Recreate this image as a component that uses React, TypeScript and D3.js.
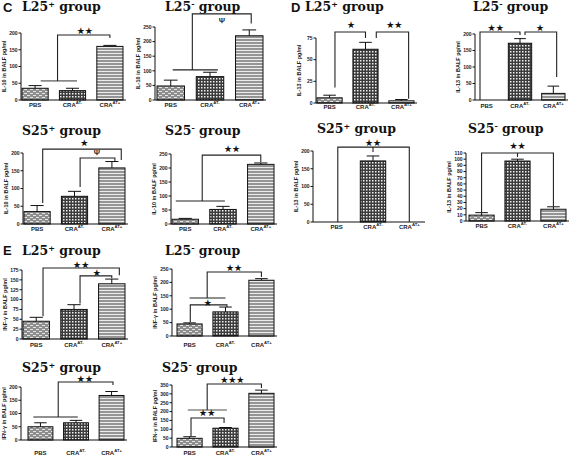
import React from 'react';
import * as d3 from 'd3';

// ---------- data ----------
const categories = ['PBS', 'CRA', 'CRA'];
const categorySup = ['', 'AT-', 'AT+'];

// Panel C : IL-10
const il10L25posMean = [35, 28, 160];
const il10L25posErr = [8, 7, 3];
const il10L25negMean = [48, 80, 220];
const il10L25negErr = [20, 15, 20];
const il10S25posMean = [35, 78, 158];
const il10S25posErr = [17, 14, 18];
const il10S25negMean = [17, 52, 213];
const il10S25negErr = [3, 11, 5];

// Panel D : IL-13
const il13L25posMean = [6, 62, 2.5];
const il13L25posErr = [3, 8, 1.5];
const il13L25negMean = [0, 172, 20];
const il13L25negErr = [0, 14, 22];
const il13S25posMean = [0, 172, 0];
const il13S25posErr = [0, 14, 0];
const il13S25negMean = [9.5, 97, 19];
const il13S25negErr = [4, 3, 4];

// Panel E : IFN-gamma
const ifnL25posMean = [45, 75, 140];
const ifnL25posErr = [10, 12, 12];
const ifnL25negMean = [45, 90, 208];
const ifnL25negErr = [4, 18, 6];
const ifnS25posMean = [50, 65, 168];
const ifnS25posErr = [15, 9, 15];
const ifnS25negMean = [49, 106, 303];
const ifnS25negErr = [9, 4, 18];

// y-axis maxima and tick steps
const axisMax = [200, 250, 200, 250, 75, 200, 200, 110, 175, 250, 200, 350];
const axisStep = [50, 50, 50, 50, 25, 50, 50, 10, 25, 50, 50, 50];

// significance brackets: points are [category position, value]
type Br = { pts: [number, number][]; grey?: boolean };
type Mk = { at: [number, number]; text: string };

const il10L25posLines: Br[] = [
  { pts: [[0.15, 57], [1.12, 57]], grey: true },
  { pts: [[0.6, 57], [0.6, 194], [2, 194], [2, 185]] },
];
const il10L25posMarks: Mk[] = [{ at: [1.33, 206], text: '★★' }];

const il10L25negLines: Br[] = [
  { pts: [[0.05, 103], [1.2, 103]] },
  { pts: [[0.55, 103], [0.55, 295], [2.05, 295], [2.05, 262]] },
];
const il10L25negMarks: Mk[] = [{ at: [1.3, 274], text: 'Ψ' }];

const il10S25posLines: Br[] = [
  { pts: [[0.15, 59], [0.15, 211], [2.25, 211], [2.25, 180]] },
  { pts: [[1.15, 104], [1.15, 186], [2.08, 186], [2.08, 177]] },
];
const il10S25posMarks: Mk[] = [
  { at: [1.26, 228], text: '★' },
  { at: [1.6, 202], text: 'Ψ' },
];

const il10S25negLines: Br[] = [
  { pts: [[-0.25, 82], [1.05, 82]] },
  { pts: [[0.45, 82], [0.45, 246], [2, 246], [2, 221]] },
];
const il10S25negMarks: Mk[] = [{ at: [1.24, 268], text: '★★' }];

const il13L25posLines: Br[] = [
  { pts: [[0.15, 18], [0.15, 82], [1.0, 82], [1.0, 75]] },
  { pts: [[1.3, 75], [1.3, 82], [2.2, 82], [2.2, 5]] },
];
const il13L25posMarks: Mk[] = [
  { at: [0.6, 90], text: '★' },
  { at: [1.8, 90], text: '★★' },
];

const il13L25negLines: Br[] = [
  { pts: [[-0.2, 0], [-0.2, 206], [1.0, 206], [1.0, 197]] },
  { pts: [[1.15, 197], [1.15, 206], [2.1, 206], [2.1, 70]] },
];
const il13L25negMarks: Mk[] = [
  { at: [0.27, 218], text: '★★' },
  { at: [1.6, 218], text: '★' },
];

const il13S25posLines: Br[] = [
  { pts: [[0.03, 0], [0.03, 211], [2.0, 211], [2.0, 0]] },
  { pts: [[1, 211], [1, 197]] },
];
const il13S25posMarks: Mk[] = [{ at: [1, 223], text: '★★' }];

const il13S25negLines: Br[] = [
  { pts: [[0, 14], [0, 110], [2, 110], [2, 24]] },
  { pts: [[1, 110], [1, 103.5]] },
];
const il13S25negMarks: Mk[] = [{ at: [1, 121], text: '★★' }];

const ifnL25posLines: Br[] = [
  { pts: [[0.18, 58], [0.18, 180], [2.2, 180], [2.2, 162]] },
  { pts: [[1.16, 90], [1.16, 160], [2.0, 160], [2.0, 154]] },
];
const ifnL25posMarks: Mk[] = [
  { at: [1.19, 188], text: '★★' },
  { at: [1.6, 168], text: '★' },
];

const ifnL25negLines: Br[] = [
  { pts: [[0.0, 142], [1.0, 142]] },
  { pts: [[0.49, 142], [0.49, 239], [2.0, 239], [2.0, 220]] },
  { pts: [[0.02, 52], [0.02, 116], [1.04, 116], [1.04, 108]] },
];
const ifnL25negMarks: Mk[] = [
  { at: [1.24, 256], text: '★★' },
  { at: [0.51, 124], text: '★' },
];

const ifnS25posLines: Br[] = [
  { pts: [[-0.2, 87], [1.05, 87]] },
  { pts: [[0.5, 87], [0.5, 219], [2.04, 219], [2.04, 208]] },
];
const ifnS25posMarks: Mk[] = [{ at: [1.25, 232], text: '★★' }];

const ifnS25negLines: Br[] = [
  { pts: [[-0.05, 209], [1.04, 209]], grey: true },
  { pts: [[0.49, 209], [0.49, 356], [2.0, 356], [2.0, 333]] },
  { pts: [[0.04, 60], [0.04, 164], [0.96, 164], [0.96, 136]] },
];
const ifnS25negMarks: Mk[] = [
  { at: [1.19, 378], text: '★★★' },
  { at: [0.49, 192], text: '★★' },
];

const groupNames = ['L25', 'L25', 'S25', 'S25'];
const groupSigns = ['+', '-', '+', '-'];
const yLabels = [
  'IL-10 in BALF pg/ml',
  'IL-13 in BALF pg/ml',
  'INF-γ in BALF pg/ml',
  'IFN-γ in BALF pg/ml',
];

// ---------- layout ----------
type Layout = {
  axisX: number; bandL: number; bandR: number; y0: number; yTop: number;
  labelY: number; titleX: number; titleY: number;
};
const layouts: Layout[] = [
  { axisX: 21, bandL: 22, bandR: 123, y0: 100, yTop: 33, labelY: 107, titleX: 22, titleY: 11 },
  { axisX: 155, bandL: 157, bandR: 263, y0: 100, yTop: 27, labelY: 107, titleX: 165, titleY: 11 },
  { axisX: 23, bandL: 24, bandR: 125, y0: 224, yTop: 153, labelY: 231, titleX: 22, titleY: 135 },
  { axisX: 171, bandL: 172, bandR: 274, y0: 224, yTop: 154, labelY: 231, titleX: 165, titleY: 135 },
  { axisX: 316, bandL: 317, bandR: 414, y0: 103, yTop: 38, labelY: 109, titleX: 305, titleY: 11 },
  { axisX: 475, bandL: 475, bandR: 565, y0: 100, yTop: 34, labelY: 108, titleX: 473, titleY: 11 },
  { axisX: 313, bandL: 324, bandR: 422, y0: 222, yTop: 151, labelY: 229, titleX: 317, titleY: 133 },
  { axisX: 466, bandL: 469, bandR: 566, y0: 221, yTop: 153, labelY: 228, titleX: 468, titleY: 133 },
  { axisX: 22, bandL: 23, bandR: 125, y0: 339, yTop: 270, labelY: 347, titleX: 22, titleY: 255 },
  { axisX: 172, bandL: 177, bandR: 274, y0: 336, yTop: 269, labelY: 347, titleX: 165, titleY: 255 },
  { axisX: 21, bandL: 28, bandR: 124, y0: 440, yTop: 387, labelY: 455, titleX: 22, titleY: 372 },
  { axisX: 172, bandL: 177, bandR: 274, y0: 447, yTop: 385, labelY: 455, titleX: 162, titleY: 372 },
];

const means = [
  il10L25posMean, il10L25negMean, il10S25posMean, il10S25negMean,
  il13L25posMean, il13L25negMean, il13S25posMean, il13S25negMean,
  ifnL25posMean, ifnL25negMean, ifnS25posMean, ifnS25negMean,
];
const errs = [
  il10L25posErr, il10L25negErr, il10S25posErr, il10S25negErr,
  il13L25posErr, il13L25negErr, il13S25posErr, il13S25negErr,
  ifnL25posErr, ifnL25negErr, ifnS25posErr, ifnS25negErr,
];
const lines = [
  il10L25posLines, il10L25negLines, il10S25posLines, il10S25negLines,
  il13L25posLines, il13L25negLines, il13S25posLines, il13S25negLines,
  ifnL25posLines, ifnL25negLines, ifnS25posLines, ifnS25negLines,
];
const marks = [
  il10L25posMarks, il10L25negMarks, il10S25posMarks, il10S25negMarks,
  il13L25posMarks, il13L25negMarks, il13S25posMarks, il13S25negMarks,
  ifnL25posMarks, ifnL25negMarks, ifnS25posMarks, ifnS25negMarks,
];
const yLabelIdx = [0, 0, 0, 0, 1, 1, 1, 1, 2, 2, 3, 3];
const fills = ['url(#patPBS)', 'url(#patCRAm)', 'url(#patCRAp)'];

const SANS = 'Liberation Sans, Arial, sans-serif';
const SERIF = 'DejaVu Serif, serif';
const SYM = 'DejaVu Sans, sans-serif';

function Panel({ i }: { i: number }) {
  const L = layouts[i];
  const max = axisMax[i];
  const step = axisStep[i];
  const y = d3.scaleLinear().domain([0, max]).range([L.y0, L.yTop]);
  const xb = d3.scaleBand<number>().domain([0, 1, 2]).range([L.bandL, L.bandR]).paddingInner(0.3).paddingOuter(0);
  const bw = xb.bandwidth();
  const cx = (k: number) => (xb(k) as number) + bw / 2;
  const xi = d3.scaleLinear().domain([0, 2]).range([cx(0), cx(2)]);
  const ticks = d3.range(0, max + step / 2, step);
  const line = d3.line<[number, number]>().x((d) => xi(d[0])).y((d) => y(d[1]));
  const g = i % 4;
  const yMid = (L.y0 + L.yTop) / 2;
  return (
    <g>
      {/* title */}
      <text x={L.titleX} y={L.titleY} fontFamily={SERIF} fontWeight="bold" fontSize={12.5} fill="#111">
        {groupNames[g]}
        <tspan fontSize={8} dy={-4.5}>{groupSigns[g] === '+' ? '+' : '-'}</tspan>
        <tspan dy={4.5}> group</tspan>
      </text>
      {/* bars */}
      {means[i].map((v, k) =>
        v > 0 ? (
          <g key={k}>
            <rect x={xb(k)} y={y(v)} width={bw} height={y(0) - y(v)} fill={fills[k]} stroke="#111" strokeWidth={1} />
            {errs[i][k] > 0 && (
              <g stroke="#111" strokeWidth={1}>
                <line x1={cx(k)} x2={cx(k)} y1={y(v)} y2={y(v + errs[i][k])} />
                <line x1={cx(k) - bw * 0.25} x2={cx(k) + bw * 0.25} y1={y(v + errs[i][k])} y2={y(v + errs[i][k])} />
              </g>
            )}
          </g>
        ) : null
      )}
      {/* axes */}
      <line x1={L.axisX} x2={L.axisX} y1={y(0)} y2={y(max)} stroke="#111" strokeWidth={1} />
      <line x1={L.axisX} x2={L.bandR + 3} y1={y(0)} y2={y(0)} stroke="#111" strokeWidth={1} />
      {ticks.map((t) => (
        <g key={t}>
          <line x1={L.axisX - 2.5} x2={L.axisX} y1={y(t)} y2={y(t)} stroke="#111" strokeWidth={1} />
          <text x={L.axisX - 3.5} y={y(t) + 1.8} textAnchor="end" fontFamily={SANS} fontWeight="bold" fontSize={5} fill="#222">
            {t}
          </text>
        </g>
      ))}
      <text
        transform={`translate(${L.axisX - 15},${yMid}) rotate(-90)`}
        textAnchor="middle"
        fontFamily={SANS}
        fontWeight="bold"
        fontSize={5.5}
        fill="#222"
      >
        {yLabels[yLabelIdx[i]]}
      </text>
      {categories.map((c, k) => (
        <text key={k} x={cx(k)} y={L.labelY} textAnchor="middle" fontFamily={SANS} fontWeight="bold" fontSize={6} fill="#222">
          {c}
          {categorySup[k] && (
            <tspan fontSize={4.2} dy={-2.8}>{categorySup[k]}</tspan>
          )}
        </text>
      ))}
      {/* significance */}
      {lines[i].map((b, k) => (
        <path key={k} d={line(b.pts) || ''} fill="none" stroke={b.grey ? '#8a8a8a' : '#222'} strokeWidth={b.grey ? 1.6 : 1.1} />
      ))}
      {marks[i].map((m, k) => (
        <text
          key={k}
          x={xi(m.at[0])}
          y={y(m.at[1])}
          dy="0.35em"
          textAnchor="middle"
          fontFamily={m.text === 'Ψ' ? 'Liberation Sans, sans-serif' : SYM}
          fontSize={m.text === 'Ψ' ? 7.5 : 9}
          fill="#111"
          stroke="#111"
          strokeWidth={m.text === 'Ψ' ? 0.25 : 0.1}
        >
          {m.text}
        </text>
      ))}
    </g>
  );
}

export default function App() {
  return (
    <svg width={574} height={456} style={{ position: 'absolute', left: 0, top: 0, background: '#fff' }}>
      <defs>
        <pattern id="patPBS" patternUnits="userSpaceOnUse" width={6} height={4}>
          <rect width={6} height={4} fill="#8e8e8e" />
          <rect x={0} y={1} width={3} height={1} fill="#e4e4e4" />
          <rect x={3} y={3} width={3} height={1} fill="#e4e4e4" />
        </pattern>
        <pattern id="patCRAm" patternUnits="userSpaceOnUse" width={3} height={3}>
          <rect width={3} height={3} fill="#3c3c3c" />
          <rect x={0} y={0} width={1.5} height={1.5} fill="#f0f0f0" />
        </pattern>
        <pattern id="patCRAp" patternUnits="userSpaceOnUse" width={4} height={3}>
          <rect width={4} height={3} fill="#959595" />
          <rect x={0} y={2} width={4} height={1} fill="#ececec" />
        </pattern>
      </defs>
      <rect width={574} height={456} fill="#fff" />
      <text x={3} y={12} fontFamily={SANS} fontWeight="bold" fontSize={13} fill="#111">C</text>
      <text x={291} y={12} fontFamily={SANS} fontWeight="bold" fontSize={13} fill="#111">D</text>
      <text x={3} y={255} fontFamily={SANS} fontWeight="bold" fontSize={13} fill="#111">E</text>
      {layouts.map((_, i) => (
        <Panel key={i} i={i} />
      ))}
    </svg>
  );
}
